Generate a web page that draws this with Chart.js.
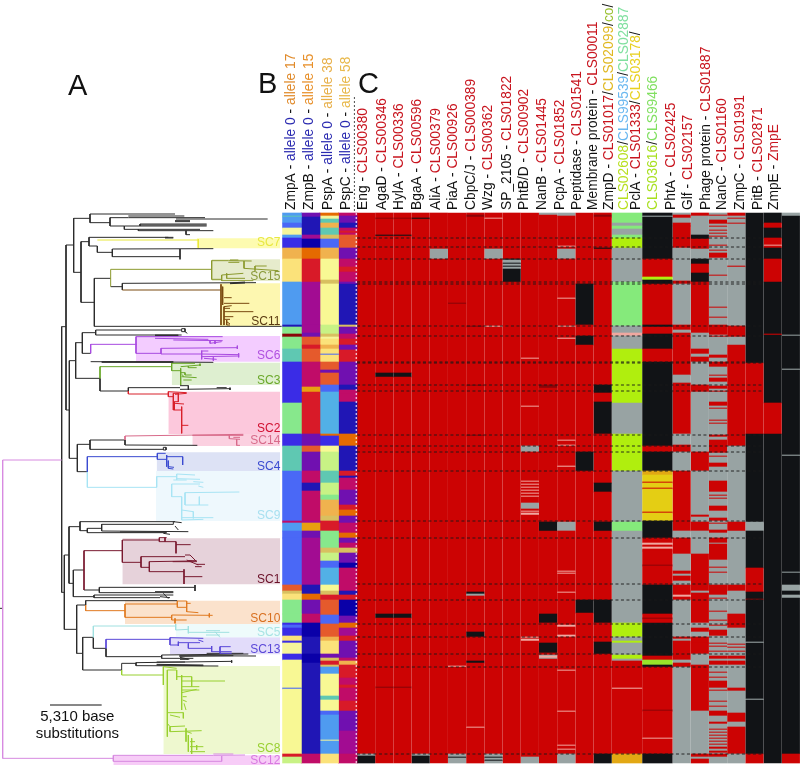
<!DOCTYPE html>
<html>
<head>
<meta charset="utf-8">
<style>
  html, body { margin: 0; padding: 0; background: #fff; }
  canvas { display: block; }
</style>
<script src="https://cdn.jsdelivr.net/npm/chart.js@4/dist/chart.umd.min.js"></script>
</head>
<body>
<canvas id="fig" width="800" height="767"></canvas>
<script>
// colour keys used by the heat map columns
const heatColors = {
  r: '#cc0303', k: '#111316', g: '#98a3a3', y: '#b0ee0e', m: '#85ea7b', o: '#e4ce14', a: '#e2a814', l: '#98e52a', d: '#8a0508', w: '#f0a8a0',
  A: '#4a68f6', B: '#4f9bf0', C: '#3a2ce6', D: '#5fc8b2', E: '#87e88c', F: '#f5f59a', G: '#fbe27a', H: '#f0b24e', I: '#e55a2c', J: '#d81a28',
  K: '#c00c68', L: '#a20c92', M: '#7010b0', N: '#2016b5', O: '#0a00a8', P: '#c8f285', Q: '#52b0e6', R: '#e56a00', S: '#f8f894', T: '#d8c060', U: '#e8a010'
};

// run-length columns: row where the run ends, colour key
const colZmpA = [3,'B',4,'D',10,'B',15,'A',22,'F',25,'B',35,'C',46,'H',69,'G',112,'B',114,'N',121,'E',124,'d',136,'E',149,'D',190,'C',221,'E',233,'C',258,'D',308,'A',310,'K',318,'B',325,'A',372,'A',378,'I',381,'T',387,'G',401,'E',410,'E',412,'C',415,'A',423,'C',428,'G',430,'C',441,'F',447,'C',475,'S',476,'A',541,'S',544,'J',550,'P'];
const colZmpB = [4,'M',22,'N',26,'L',35,'O',46,'R',69,'J',112,'L',120,'L',124,'M',132,'I',136,'J',149,'I',174,'K',179,'U',221,'J',233,'M',239,'I',258,'M',270,'K',278,'N',308,'K',310,'L',318,'U',325,'M',372,'L',381,'N',387,'R',401,'M',410,'K',424,'O',441,'N',450,'O',541,'N',550,'K'];
const colPspA = [3,'R',6,'F',10,'D',15,'H',22,'D',26,'T',35,'A',46,'H',67,'S',71,'T',112,'S',121,'P',124,'T',126,'F',132,'G',136,'H',141,'G',142,'A',149,'G',157,'I',160,'M',172,'I',179,'A',221,'Q',223,'R',233,'C',239,'S',258,'P',270,'D',282,'P',287,'E',303,'H',308,'T',318,'J',335,'E',340,'T',348,'P',355,'A',372,'Q',378,'S',382,'T',387,'J',402,'I',411,'A',424,'I',428,'H',441,'G',445,'M',448,'T',452,'J',454,'T',461,'B',483,'S',487,'D',498,'S',502,'A',527,'B',528,'F',541,'B',550,'G'];
const colPspC = [3,'K',10,'M',15,'N',18,'K',20,'J',22,'K',26,'I',35,'I',46,'M',54,'K',59,'J',69,'K',71,'M',112,'N',114,'T',121,'M',126,'K',132,'J',137,'M',149,'J',172,'M',177,'N',181,'K',189,'K',221,'N',233,'R',258,'N',263,'J',265,'N',277,'K',292,'M',297,'J',303,'R',310,'M',320,'K',325,'R',330,'M',335,'K',340,'T',350,'M',355,'O',378,'K',382,'N',387,'J',403,'O',410,'M',415,'R',423,'L',428,'J',445,'M',448,'K',452,'H',465,'J',472,'K',475,'J',488,'K',498,'J',507,'M',518,'M',541,'L',550,'K'];
const colEng = [541,'r',543,'g',550,'k'];
const colAgaD = [5,'r',6,'d',22,'r',23,'k',160,'r',164,'k',401,'r',405,'k',474,'r',475,'d',550,'r'];
const colHylA = [5,'r',6,'d',22,'r',23,'k',160,'r',164,'k',401,'r',405,'k',474,'r',475,'d',550,'r'];
const colBgaA = [5,'r',6,'k',541,'r',543,'g',550,'k'];
const colAliA = [36,'r',46,'g',550,'r'];
const colPiaA = [90,'r',91,'d',453,'r',454,'w',541,'r',544,'g',545,'k',550,'g'];
const colCbpC = [2,'r',4,'d',113,'r',114,'d',172,'r',173,'d',222,'r',223,'d',379,'r',381,'k',383,'g',419,'r',424,'k',448,'r',450,'k',514,'r',515,'w',550,'r'];
const colWzg = [5,'r',6,'w',36,'r',46,'g',113,'r',114,'w',541,'r',544,'g',545,'k',547,'g',548,'k',550,'g'];
const colSp2105 = [46,'r',47,'k',50,'g',51,'k',53,'g',54,'k',56,'g',69,'k',550,'r'];
const colPhtBD = [145,'r',146,'w',193,'r',194,'w',233,'r',239,'g',268,'r',269,'w',271,'r',272,'w',274,'r',275,'w',277,'r',278,'w',280,'r',281,'w',283,'r',284,'w',290,'r',296,'g',298,'r',299,'w',300,'r',302,'w',424,'r',425,'w',426,'r',428,'w',544,'r',550,'g'];
const colNanB = [2,'g',172,'r',175,'d',309,'r',318,'k',401,'r',410,'k',430,'r',440,'k',442,'r',443,'g',445,'w',446,'g',550,'r'];
const colPcpA = [3,'g',33,'r',34,'w',36,'r',46,'g',85,'r',86,'w',113,'r',114,'w',125,'r',126,'w',227,'r',228,'w',232,'r',233,'w',253,'r',254,'w',309,'r',318,'g',358,'r',359,'w',360,'r',361,'w',379,'r',380,'w',412,'r',414,'w',422,'r',424,'w',457,'r',458,'w',498,'r',499,'w',532,'r',533,'w',536,'r',537,'w',541,'r',550,'g'];
const colPeptidase = [71,'r',112,'k',123,'r',132,'k',239,'r',258,'k',387,'r',400,'k',550,'r'];
const colMembrane = [2,'r',4,'d',35,'r',36,'k',172,'r',180,'k',189,'r',221,'k',270,'r',279,'k',309,'r',318,'k',387,'r',410,'k',429,'r',441,'k',541,'r',550,'k'];
const colZmpD = [10,'m',13,'g',16,'m',22,'g',25,'m',35,'y',69,'g',113,'m',120,'g',123,'w',136,'g',190,'y',221,'g',258,'y',309,'g',318,'m',410,'g',424,'y',428,'g',430,'y',442,'g',446,'y',448,'g',475,'r',476,'w',541,'r',550,'a'];
const colPclA = [3,'k',4,'g',46,'k',64,'r',67,'y',71,'k',112,'r',114,'k',121,'r',136,'k',149,'r',233,'k',239,'r',258,'k',262,'a',269,'o',270,'r',275,'o',276,'r',299,'o',300,'r',308,'o',325,'k',330,'r',332,'w',334,'r',336,'w',338,'r',352,'r',353,'d',372,'r',401,'k',405,'r',406,'d',410,'r',443,'k',447,'r',452,'l',454,'k',497,'r',498,'d',525,'r',526,'w',541,'r',550,'k'];
const colPhtA = [2,'g',5,'r',10,'g',13,'r',35,'r',68,'g',71,'r',112,'g',117,'r',120,'g',124,'r',162,'r',170,'g',179,'r',221,'r',232,'g',239,'r',258,'g',318,'r',325,'g',341,'r',358,'g',361,'r',363,'g',368,'r',372,'g',382,'r',384,'w',387,'r',424,'g',426,'r',428,'g',447,'r',450,'g',454,'r',550,'g'];
const colGlf = [3,'r',22,'g',26,'k',36,'r',46,'g',51,'k',60,'r',69,'k',71,'r',120,'r',123,'g',136,'g',141,'r',144,'g',149,'r',172,'g',179,'r',221,'g',239,'g',258,'r',302,'g',304,'r',309,'g',318,'r',341,'g',378,'r',380,'g',382,'r',410,'r',415,'g',419,'r',424,'g',430,'r',441,'r',452,'g',454,'r',498,'r',541,'g',544,'r',546,'g',550,'r'];
const colPhage = [2,'g',3,'r',7,'g',11,'r',13,'g',14,'r',17,'g',18,'r',20,'g',21,'r',23,'g',24,'r',32,'g',33,'r',37,'g',38,'r',40,'g',45,'r',62,'g',63,'r',94,'g',95,'r',104,'g',105,'r',112,'g',122,'r',123,'g',124,'r',142,'g',145,'r',149,'g',154,'r',162,'g',163,'r',165,'g',169,'r',173,'g',176,'r',178,'g',179,'r',189,'g',193,'r',195,'g',196,'r',207,'g',208,'r',210,'g',211,'r',222,'g',224,'r',227,'g',240,'r',243,'g',244,'r',250,'g',254,'r',268,'g',279,'r',282,'g',283,'r',285,'g',286,'r',293,'g',298,'r',305,'g',308,'r',310,'g',311,'r',317,'g',320,'r',325,'g',330,'r',331,'g',347,'r',354,'g',355,'r',359,'g',360,'r',372,'g',382,'r',385,'g',386,'r',398,'g',399,'r',407,'g',408,'r',412,'g',413,'r',417,'g',423,'r',430,'g',431,'r',433,'g',434,'r',438,'g',439,'r',443,'g',446,'r',448,'g',452,'r',459,'g',460,'r',464,'g',465,'r',468,'g',475,'r',477,'g',478,'r',488,'g',489,'r',493,'g',494,'r',498,'g',503,'r',509,'g',511,'r',516,'g',517,'r',519,'g',520,'r',522,'g',523,'r',525,'g',526,'r',528,'g',529,'r',531,'g',532,'r',534,'g',536,'r',538,'g',540,'r',541,'g',544,'r',550,'g'];
const colNanC = [3,'r',5,'g',6,'r',10,'g',11,'r',53,'g',54,'r',113,'g',124,'r',132,'g',233,'r',309,'g',318,'r',372,'g',378,'r',401,'g',415,'r',424,'g',431,'g',432,'r',434,'g',435,'r',438,'g',439,'r',443,'g',446,'r',448,'g',452,'r',475,'g',478,'r',500,'g',509,'r',514,'g',541,'r',550,'g'];
const colZmpC = [150,'k',221,'r',309,'k',318,'g',355,'k',379,'r',386,'k',387,'d',429,'k',430,'g',486,'k',487,'g',541,'k',550,'r'];
const colPitB = [10,'k',15,'r',25,'k',32,'r',33,'w',35,'r',46,'k',69,'r',121,'k',122,'r',190,'k',221,'r',550,'k'];
const colZmpE = [3,'g',122,'k',123,'g',156,'k',157,'g',242,'k',243,'g',359,'k',360,'g',372,'k',378,'g',382,'k',385,'g',541,'k',550,'r'];

// dashed rows separating the clades
const cladeBreaks = [25,34,46,69,71,113,123,149,150,172,178,222,233,239,258,308,325,371,387,411,424,441,454,541];

// column order and spans (in column widths)
const heatColumns = [colZmpA,colZmpB,colPspA,colPspC,colEng,colAgaD,colHylA,colBgaA,colAliA,colPiaA,colCbpC,colWzg,colSp2105,colPhtBD,colNanB,colPcpA,colPeptidase,colMembrane,colZmpD,colPclA,colPhtA,colGlf,colPhage,colNanC,colZmpC,colPitB,colZmpE];
const heatSpans = [1.02,1.02,1.02,1.02,1,1,1,1,1,1,1,1,1,1,1,1,1,1,1.67,1.67,1,1,1,1,1,1,1];

// tree branches, in 1/3 px tree units (155 units = 5,310 substitutions)
const treeBlack = [
  [[0,1825],[8,1825]],
  [[198,980],[185,980],[185,1777],[193,1777]],
  [[221,735],[198,735],[198,1230],[208,1230]],
  [[270,655],[221,655],[221,817],[243,817]],
  [[525,642],[270,642],[270,668],[330,668]],
  [[385,653],[330,653],[330,678],[373,678]],
  [[528,657],[803,657]],[[385,653],[615,653]],[[385,648],[553,648]],[[525,662],[570,662]],[[525,665],[570,665]],
  [[620,672],[420,672],[420,678]],[[620,675],[420,675]],[[373,678],[620,678]],[[373,678],[373,688],[600,688]],[[415,692],[640,692]],[[415,688],[415,692]],[[558,692],[558,704],[570,704]],
  [[267,725],[243,725],[243,907],[283,907]],
  [[505,712],[267,712],[267,738],[292,738]],[[495,712],[520,712]],[[495,714],[520,714]],
  [[292,738],[292,757],[337,757]],[[337,747],[640,746]],[[337,747],[337,770],[540,770]],[[540,747],[540,778]],
  [[283,835],[283,979],[845,979]],[[283,835],[332,835]],
  [[332,860],[367,860]],[[367,850],[367,870]],[[367,850],[768,848]],[[690,849],[735,846]],[[690,851],[735,849]],
  [[227,1082],[208,1082],[208,1375],[232,1375]],
  [[247,1028],[227,1028],[227,1135],[300,1135]],
  [[287,998],[247,998],[247,1060],[272,1060]],
  [[545,990],[287,990],[287,1005],[545,1005]],[[545,986],[555,986],[555,995],[545,995],[545,986]],[[555,995],[562,1000]],[[465,1005],[535,1005]],[[465,1007],[535,1007]],
  [[272,1085],[640,1087]],[[305,1085],[520,1085]],[[305,1087],[520,1087]],
  [[300,1135],[300,1173],[385,1173]],[[385,1163],[385,1173]],[[385,1163],[540,1163]],[[540,1157],[565,1157],[565,1170]],[[540,1168],[690,1166]],[[650,1163],[680,1163]],[[690,1163],[690,1170]],
  [[270,1333],[232,1333],[232,1415],[262,1415]],
  [[375,1320],[270,1320],[270,1348],[490,1348]],[[490,1342],[498,1342],[498,1350],[490,1350],[490,1342]],
  [[375,1320],[375,1335],[592,1336]],
  [[207,1665],[193,1665],[193,1888],[230,1888]],
  [[240,1580],[207,1580],[207,1750],[220,1750]],
  [[525,1565],[240,1565],[240,1592],[262,1592]],
  [[262,1585],[305,1585]],[[262,1585],[262,1598],[500,1598]],[[305,1573],[520,1573],[520,1565],[545,1568]],[[305,1573],[305,1593],[565,1595]],[[360,1596],[500,1596]],[[490,1600],[510,1603]],[[525,1578],[535,1590]],
  [[252,1710],[220,1710],[220,1790],[282,1790]],
  [[252,1770],[298,1770]],[[298,1762],[585,1762]],[[298,1762],[298,1778],[520,1778]],[[585,1755],[585,1773]],[[465,1775],[520,1775]],
  [[282,1785],[520,1785]],[[282,1785],[282,1793],[480,1793]],[[480,1790],[510,1793]],[[490,1780],[505,1796]],
  [[257,1815],[230,1815],[230,1960],[248,1960]],
  [[257,1802],[532,1802]],[[257,1802],[257,1815]],
  [[280,1912],[248,1912],[248,2010],[365,2010]],
  [[280,1912],[280,1945],[318,1945]],
  [[318,1945],[318,1970],[485,1970]],[[485,1965],[485,1975]],[[485,1965],[745,1962]],[[538,1967],[768,1968]],[[538,1969],[700,1967]],[[485,1975],[580,1975]],[[540,1972],[568,1978]],[[540,1978],[565,1978]],[[620,1960],[730,1960]],
  [[365,2010],[365,1990],[408,1990]],[[408,1988],[408,1997]],[[408,1988],[695,1984]],[[695,1981],[695,1988]],[[470,1986],[555,1986]],[[408,1997],[655,1998]],[[470,1993],[610,1995]],[[470,1995],[610,1997]]
];
const treeSC7 = [[[292,720],[595,720]],[[595,718],[595,743]]];
const treeSC15 = [[[332,860],[332,808],[635,808]],[[685,782],[635,782],[635,838],[665,838]],[[685,782],[755,783]],[[685,787],[718,787]],[[690,780],[715,780]],[[732,783],[732,805],[835,812]],[[765,798],[800,798]],[[765,798],[765,812]],[[665,825],[665,842],[760,842]],[[665,825],[730,820]],[[680,820],[680,835],[735,835]]];
const treeSC11 = [[[367,870],[662,870]],[[663,853],[663,975]],[[668,860],[668,915]],[[672,893],[695,893]],[[672,910],[748,910]],[[672,920],[695,917]],[[672,920],[672,975]],[[672,935],[760,935]],[[672,925],[690,925]],[[672,950],[700,950]],[[672,958],[690,958]],[[680,965],[690,972]],[[680,960],[680,975],[690,975]]];
const treeSC6 = [[[410,1033],[272,1033],[272,1060]],[[465,1010],[408,1010],[408,1060],[483,1060]],[[465,1010],[668,1010]],[[465,1015],[625,1018]],[[520,1020],[668,1022]],[[630,1020],[630,1030],[665,1025]],[[645,1022],[645,1032]],[[483,1045],[483,1062]],[[483,1045],[712,1043]],[[712,1037],[712,1047]],[[483,1062],[605,1062]],[[605,1052],[605,1078]],[[605,1053],[625,1053]],[[605,1062],[716,1064]],[[605,1070],[716,1068]],[[716,1060],[716,1072]],[[612,1075],[650,1078]],[[640,1072],[640,1082]]];
const treeSC3 = [[[515,1100],[300,1100],[300,1135]],[[515,1090],[515,1112]],[[515,1090],[585,1090]],[[515,1112],[542,1112]],[[542,1105],[542,1155]],[[542,1100],[600,1095]],[[565,1098],[565,1103],[590,1103]],[[600,1091],[600,1098]],[[542,1118],[555,1118],[555,1125],[575,1125]],[[545,1130],[590,1133]],[[545,1123],[552,1130]],[[550,1140],[575,1140]]];
const treeSC2 = [[[385,1173],[385,1182],[505,1182]],[[505,1175],[505,1190]],[[505,1175],[560,1178]],[[505,1190],[520,1190]],[[520,1180],[520,1230],[545,1230]],[[520,1180],[535,1180],[535,1205],[523,1205],[523,1230]],[[525,1210],[552,1212]],[[545,1220],[545,1300]],[[545,1276],[565,1276]],[[525,1183],[560,1180]]];
const treeSC14 = [[[375,1308],[730,1303]],[[375,1308],[375,1320]],[[577,1306],[730,1306]],[[688,1306],[688,1316],[720,1318]],[[700,1312],[720,1312]],[[710,1318],[710,1336],[720,1336]]];
const treeSC4 = [[[472,1370],[262,1370],[262,1415]],[[497,1360],[472,1360],[472,1378],[500,1378]],[[500,1365],[500,1400]],[[500,1370],[548,1370]],[[548,1370],[548,1395]],[[505,1382],[505,1405],[520,1407]],[[505,1400],[522,1402]]];
const treeSC9 = [[[262,1415],[262,1462],[470,1462]],[[470,1430],[470,1462]],[[470,1430],[530,1430]],[[530,1422],[530,1440]],[[530,1422],[585,1425]],[[530,1436],[600,1438]],[[515,1452],[515,1490],[545,1490]],[[515,1452],[600,1452]],[[580,1445],[610,1447]],[[595,1458],[610,1462]],[[555,1478],[718,1476]],[[545,1490],[545,1560],[610,1558]],[[555,1478],[555,1515],[625,1515]],[[598,1490],[598,1515]],[[545,1530],[580,1535],[580,1555]],[[520,1440],[560,1440]],[[545,1553],[640,1553]]];
const treeSC1 = [[[367,1652],[252,1652],[252,1770]],[[367,1620],[367,1687]],[[367,1620],[478,1620]],[[367,1687],[423,1687]],[[478,1613],[478,1625]],[[478,1613],[500,1613]],[[478,1625],[528,1625]],[[495,1613],[495,1625]],[[528,1625],[528,1660]],[[528,1634],[572,1634]],[[423,1670],[423,1702]],[[423,1670],[555,1670]],[[555,1665],[570,1665],[590,1685]],[[448,1702],[423,1702]],[[448,1685],[448,1715]],[[448,1685],[575,1683]],[[518,1685],[590,1685]],[[560,1680],[595,1695]],[[565,1682],[590,1682]],[[590,1693],[615,1693]],[[585,1700],[605,1700]],[[448,1715],[552,1715]],[[552,1708],[552,1752]],[[552,1730],[607,1730]]];
const treeSC10 = [[[257,1815],[257,1832],[375,1832]],[[375,1812],[375,1852]],[[375,1812],[532,1812]],[[375,1852],[515,1852]],[[532,1803],[560,1803]],[[532,1803],[532,1822],[560,1822]],[[560,1803],[560,1835],[595,1838]],[[560,1810],[572,1810]],[[515,1845],[638,1846]],[[515,1845],[515,1860],[560,1860]],[[525,1855],[525,1870]],[[628,1840],[628,1852]]];
const treeSC5 = [[[527,1878],[280,1878],[280,1912]],[[527,1872],[527,1890]],[[527,1890],[565,1888]],[[565,1878],[565,1900]],[[565,1897],[688,1897]],[[618,1892],[660,1892]],[[618,1905],[660,1905]],[[645,1895],[660,1912]]];
const treeSC13 = [[[510,1918],[318,1918],[318,1945]],[[510,1913],[610,1915]],[[510,1913],[510,1935],[535,1935]],[[535,1925],[535,1938]],[[535,1928],[600,1928]],[[565,1930],[565,1945],[635,1945]],[[635,1938],[635,1955],[695,1955]],[[660,1940],[692,1940]],[[660,1940],[660,1960],[695,1960]],[[595,1920],[610,1925]]];
const treeSC8 = [[[365,2010],[365,2025],[490,2025]],[[490,2000],[490,2055]],[[490,2000],[530,2005]],[[502,2010],[502,2210]],[[502,2010],[530,2010]],[[530,2010],[530,2040]],[[545,2025],[545,2130]],[[530,2030],[575,2030]],[[545,2043],[675,2043]],[[575,2030],[575,2060]],[[545,2060],[598,2060]],[[545,2070],[598,2070]],[[545,2078],[590,2068]],[[548,2090],[560,2090]],[[548,2100],[560,2105]],[[552,2110],[558,2130]],[[502,2138],[550,2138]],[[550,2138],[550,2155]],[[510,2145],[540,2152]],[[502,2170],[510,2180],[555,2178]],[[510,2180],[510,2195],[605,2192]],[[558,2185],[558,2225]],[[560,2195],[575,2200]],[[565,2205],[565,2255]],[[570,2225],[585,2225]],[[590,2235],[590,2250]],[[570,2240],[610,2240]],[[570,2255],[615,2255]],[[575,2215],[575,2262]]];
const treeSC12 = [[[185,1380],[8,1380],[8,2275],[340,2275]],[[340,2266],[340,2284]],[[340,2266],[640,2266]],[[340,2284],[665,2284]],[[665,2268],[665,2284]],[[640,2266],[735,2265]],[[640,2262],[700,2262]]];
const scaleBar = [[[150,2115],[305,2115]]];

// clade shading: left edge, top, bottom in tree units, right edge shared
const cladeBands = [
  [590,715,745,'#fdfbb0'],[635,778,843,'#e6ebcc'],[660,850,978,'#fdf7b0'],[408,1008,1085,'#f3ccff'],[515,1088,1155,'#deefd0'],
  [505,1175,1302,'#fcc8dc'],[577,1302,1338,'#fbd0e0'],[470,1357,1413,'#dde2f5'],[468,1413,1563,'#eef8fd'],[367,1615,1753,'#e6d2da'],
  [375,1802,1872,'#fbe2cc'],[527,1872,1912,'#eefbfb'],[510,1912,1963,'#e2dcfa'],[490,1998,2262,'#eef8cf'],[340,2266,2295,'#f7ccf7']
];
const bandRight = 840;

const cladeTreeSets = [
  [treeSC7,'#e8e83a'],[treeSC15,'#8c9a2e'],[treeSC11,'#7a4a10'],[treeSC6,'#a84ae0'],[treeSC3,'#6aa82a'],[treeSC2,'#d8202a'],[treeSC14,'#d86a8a'],
  [treeSC4,'#3a4ad0'],[treeSC9,'#a8e4f4'],[treeSC1,'#7a1a30'],[treeSC10,'#e07a20'],[treeSC5,'#a0e0e0'],[treeSC13,'#5a48d8'],[treeSC8,'#98d030'],[treeSC12,'#d78ae0'],
  [treeBlack,'#2b2b2b'],[scaleBar,'#111']
];

// clade labels: text, colour, centre row in tree units
const cladeLabels = [
  ['SC7','#e8e840',729],['SC15','#8a9a3a',831],['SC11','#5a3a10',966],['SC6','#b050e0',1068],['SC3','#6aa82a',1143],['SC2','#d01030',1287],['SC14','#d86a8a',1323],
  ['SC4','#3a4ad0',1401],['SC9','#a8e0f0',1548],['SC1','#6a1028',1738],['SC10','#d87020',1857],['SC5','#a8e4e4',1898],['SC13','#5a48d8',1948],['SC8','#98d030',2247],['SC12','#d878e0',2282]
];

const RED = '#c8141e', BLU = '#2a2ab0', BLK = '#111';
const alleleRuns = (name, tail, col) => [[name + ' - ', BLK], ['allele 0', BLU], [' - ', BLK], ['allele ' + tail, col]];
const clsRuns = (name, cls) => [[name + ' - ', BLK], [cls, RED]];
// header labels: baseline px, text runs
const headerLabels = [
  [295, alleleRuns('ZmpA','17','#e08a2a')],[313, alleleRuns('ZmpB','15','#e8902a')],[331.5, alleleRuns('PspA','38','#e8b04a')],[349.5, alleleRuns('PspC','58','#e8b84a')],
  [367, clsRuns('Eng','CLS00380')],[385.5, clsRuns('AgaD','CLS00346')],[403, clsRuns('HylA','CLS00336')],[421, clsRuns('BgaA','CLS00596')],[440, clsRuns('AliA','CLS00379')],
  [457, clsRuns('PiaA','CLS00926')],[475, clsRuns('CbpC/J','CLS000389')],[492, clsRuns('Wzg','CLS00362')],[510.5, clsRuns('SP_2105','CLS01822')],[528, clsRuns('PhtB/D','CLS00902')],
  [546, clsRuns('NanB','CLS01445')],[564, clsRuns('PcpA','CLS01852')],[581, clsRuns('Peptidase','CLS01541')],[597, clsRuns('Membrane protein','CLS00011')],
  [612.7, [['ZmpD - ',BLK],['CLS01017',RED],['/',BLK],['CLS02099','#e0b820'],['/',BLK],['co','#9ac030'],['/',BLK]]],
  [628, [['CLS02608','#b8e020'],['/',BLK],['CLS99539','#6ab8f0'],['/',BLK],['CLS02887','#80e0a0']]],
  [640, [['PclA - ',BLK],['CLS01333',RED],['/',BLK],['CLS03178','#e8d020'],['/',BLK]]],
  [657, [['CLS03616','#a8e020'],['/',BLK],['CLS99466','#80e060']]],
  [674.5, clsRuns('PhtA','CLS02425')],[692, clsRuns('Glf','CLS02157')],[710, clsRuns('Phage protein','CLS01887')],[726, clsRuns('NanC','CLS01160')],
  [744, clsRuns('ZmpC','CLS01991')],[761.7, clsRuns('PitB','CLS02871')],[777.7, clsRuns('ZmpE','ZmpE')]
];

const PX_PER_COL = 18.2, HEAT_LEFT = 282.7;

function pathPoints(paths) {
  const pts = [];
  paths.forEach(p => {
    p.forEach(q => pts.push({ x: q[0], y: q[1] }));
    pts.push({ x: NaN, y: NaN });
  });
  return pts;
}

const datasets = [];

// clade shading, filled down to the band's bottom row
cladeBands.forEach(b => {
  datasets.push({
    type: 'line', xAxisID: 'xTree', yAxisID: 'yTree', order: 30,
    data: [{ x: b[0], y: b[1] }, { x: bandRight, y: b[1] }],
    borderWidth: 0, pointRadius: 0, backgroundColor: b[3],
    fill: { target: { value: b[2] } }
  });
});

// tree branches
cladeTreeSets.forEach(s => {
  datasets.push({
    type: 'line', xAxisID: 'xTree', yAxisID: 'yTree', order: 20,
    data: pathPoints(s[0]), borderColor: s[1], borderWidth: 1, pointRadius: 0, fill: false, spanGaps: false, tension: 0
  });
});

// heat columns: each run is one floating bar
let colLeft = 0;
heatColumns.forEach((col, i) => {
  const center = colLeft + heatSpans[i] / 2;
  const data = [], colors = [];
  let start = 0;
  for (let k = 0; k < col.length; k += 2) {
    if (col[k] > start) {
      data.push({ x: center, y: [start, col[k]] });
      colors.push(heatColors[col[k + 1]]);
      start = col[k];
    }
  }
  datasets.push({
    type: 'bar', xAxisID: 'xHeat', yAxisID: 'yHeat', order: 10, grouped: false,
    data: data, backgroundColor: colors, borderWidth: 0,
    barThickness: heatSpans[i] * PX_PER_COL - (i < 4 ? -0.3 : 0.7)
  });
  colLeft += heatSpans[i];
});

const cEdge = heatSpans.slice(0, 4).reduce((a, b) => a + b, 0);
const heatEnd = heatSpans.slice(0, 26).reduce((a, b) => a + b, 0);
const dashPts = [];
cladeBreaks.forEach(r => { dashPts.push({ x: cEdge, y: r }, { x: heatEnd - 1, y: r }, { x: NaN, y: NaN }); });
datasets.push({
  type: 'line', xAxisID: 'xHeat', yAxisID: 'yHeat', order: 2,
  data: dashPts, borderColor: '#1a1a1a', borderWidth: 0.9, borderDash: [3, 2.5], pointRadius: 0, fill: false
});
// white dashes down the B/C seam, black ones above it
datasets.push({
  type: 'line', xAxisID: 'xHeat', yAxisID: 'yHeat', order: 1,
  data: [{ x: cEdge - 0.04, y: 0 }, { x: cEdge - 0.04, y: 550 }], borderColor: '#fff', borderWidth: 1, borderDash: [2, 2], pointRadius: 0, fill: false
});
datasets.push({
  type: 'line', xAxisID: 'xHeat', yAxisID: 'yHeat', order: 1,
  data: [{ x: cEdge - 0.14, y: -116 }, { x: cEdge - 0.14, y: 0 }], borderColor: '#222', borderWidth: 0.8, borderDash: [2, 2], pointRadius: 0, fill: false
});

const textPlugin = {
  id: 'figureText',
  afterDatasetsDraw(chart) {
    const ctx = chart.ctx, xT = chart.scales.xTree, yT = chart.scales.yTree;
    ctx.save();
    ctx.textBaseline = 'alphabetic';
    // panel letters
    ctx.font = '29px "Liberation Sans"';
    ctx.fillStyle = '#111';
    ctx.textAlign = 'left';
    ctx.fillText('A', 68, 95);
    ctx.fillText('B', 258, 93);
    ctx.fillText('C', 358, 93);
    // clade names
    ctx.font = '12px "Liberation Sans"';
    ctx.textAlign = 'right';
    ctx.textBaseline = 'middle';
    cladeLabels.forEach(l => {
      ctx.fillStyle = l[1];
      ctx.fillText(l[0], xT.getPixelForValue(841), yT.getPixelForValue(l[2]));
    });
    // scale bar caption
    ctx.font = '15px "Liberation Sans"';
    ctx.textAlign = 'center';
    ctx.fillStyle = '#111';
    ctx.textBaseline = 'alphabetic';
    ctx.fillText('5,310 base', xT.getPixelForValue(232), yT.getPixelForValue(2163));
    ctx.fillText('substitutions', xT.getPixelForValue(232), yT.getPixelForValue(2214));
    // rotated column headers, one run per colour
    ctx.font = '13.8px "Liberation Sans"';
    ctx.textAlign = 'left';
    headerLabels.forEach(h => {
      ctx.save();
      ctx.translate(h[0], 210);
      ctx.rotate(-Math.PI / 2);
      let pos = 0;
      h[1].forEach(run => {
        ctx.fillStyle = run[1];
        ctx.fillText(run[0], pos, 0);
        pos += ctx.measureText(run[0]).width;
      });
      ctx.restore();
    });
    ctx.restore();
  }
};

new Chart(document.getElementById('fig').getContext('2d'), {
  type: 'bar',
  data: { datasets: datasets },
  plugins: [textPlugin],
  options: {
    responsive: false,
    animation: false,
    layout: { padding: 0 },
    plugins: { legend: { display: false }, tooltip: { enabled: false }, title: { display: false } },
    scales: {
      xTree: { type: 'linear', display: false, offset: false, min: 0, max: 2400 },
      yTree: { type: 'linear', display: false, min: 0, max: 2301, reverse: true },
      xHeat: { type: 'linear', display: false, offset: false, min: -HEAT_LEFT / PX_PER_COL, max: (800 - HEAT_LEFT) / PX_PER_COL },
      yHeat: { type: 'linear', display: false, min: -213, max: 554, reverse: true }
    }
  }
});
</script>
</body>
</html>
